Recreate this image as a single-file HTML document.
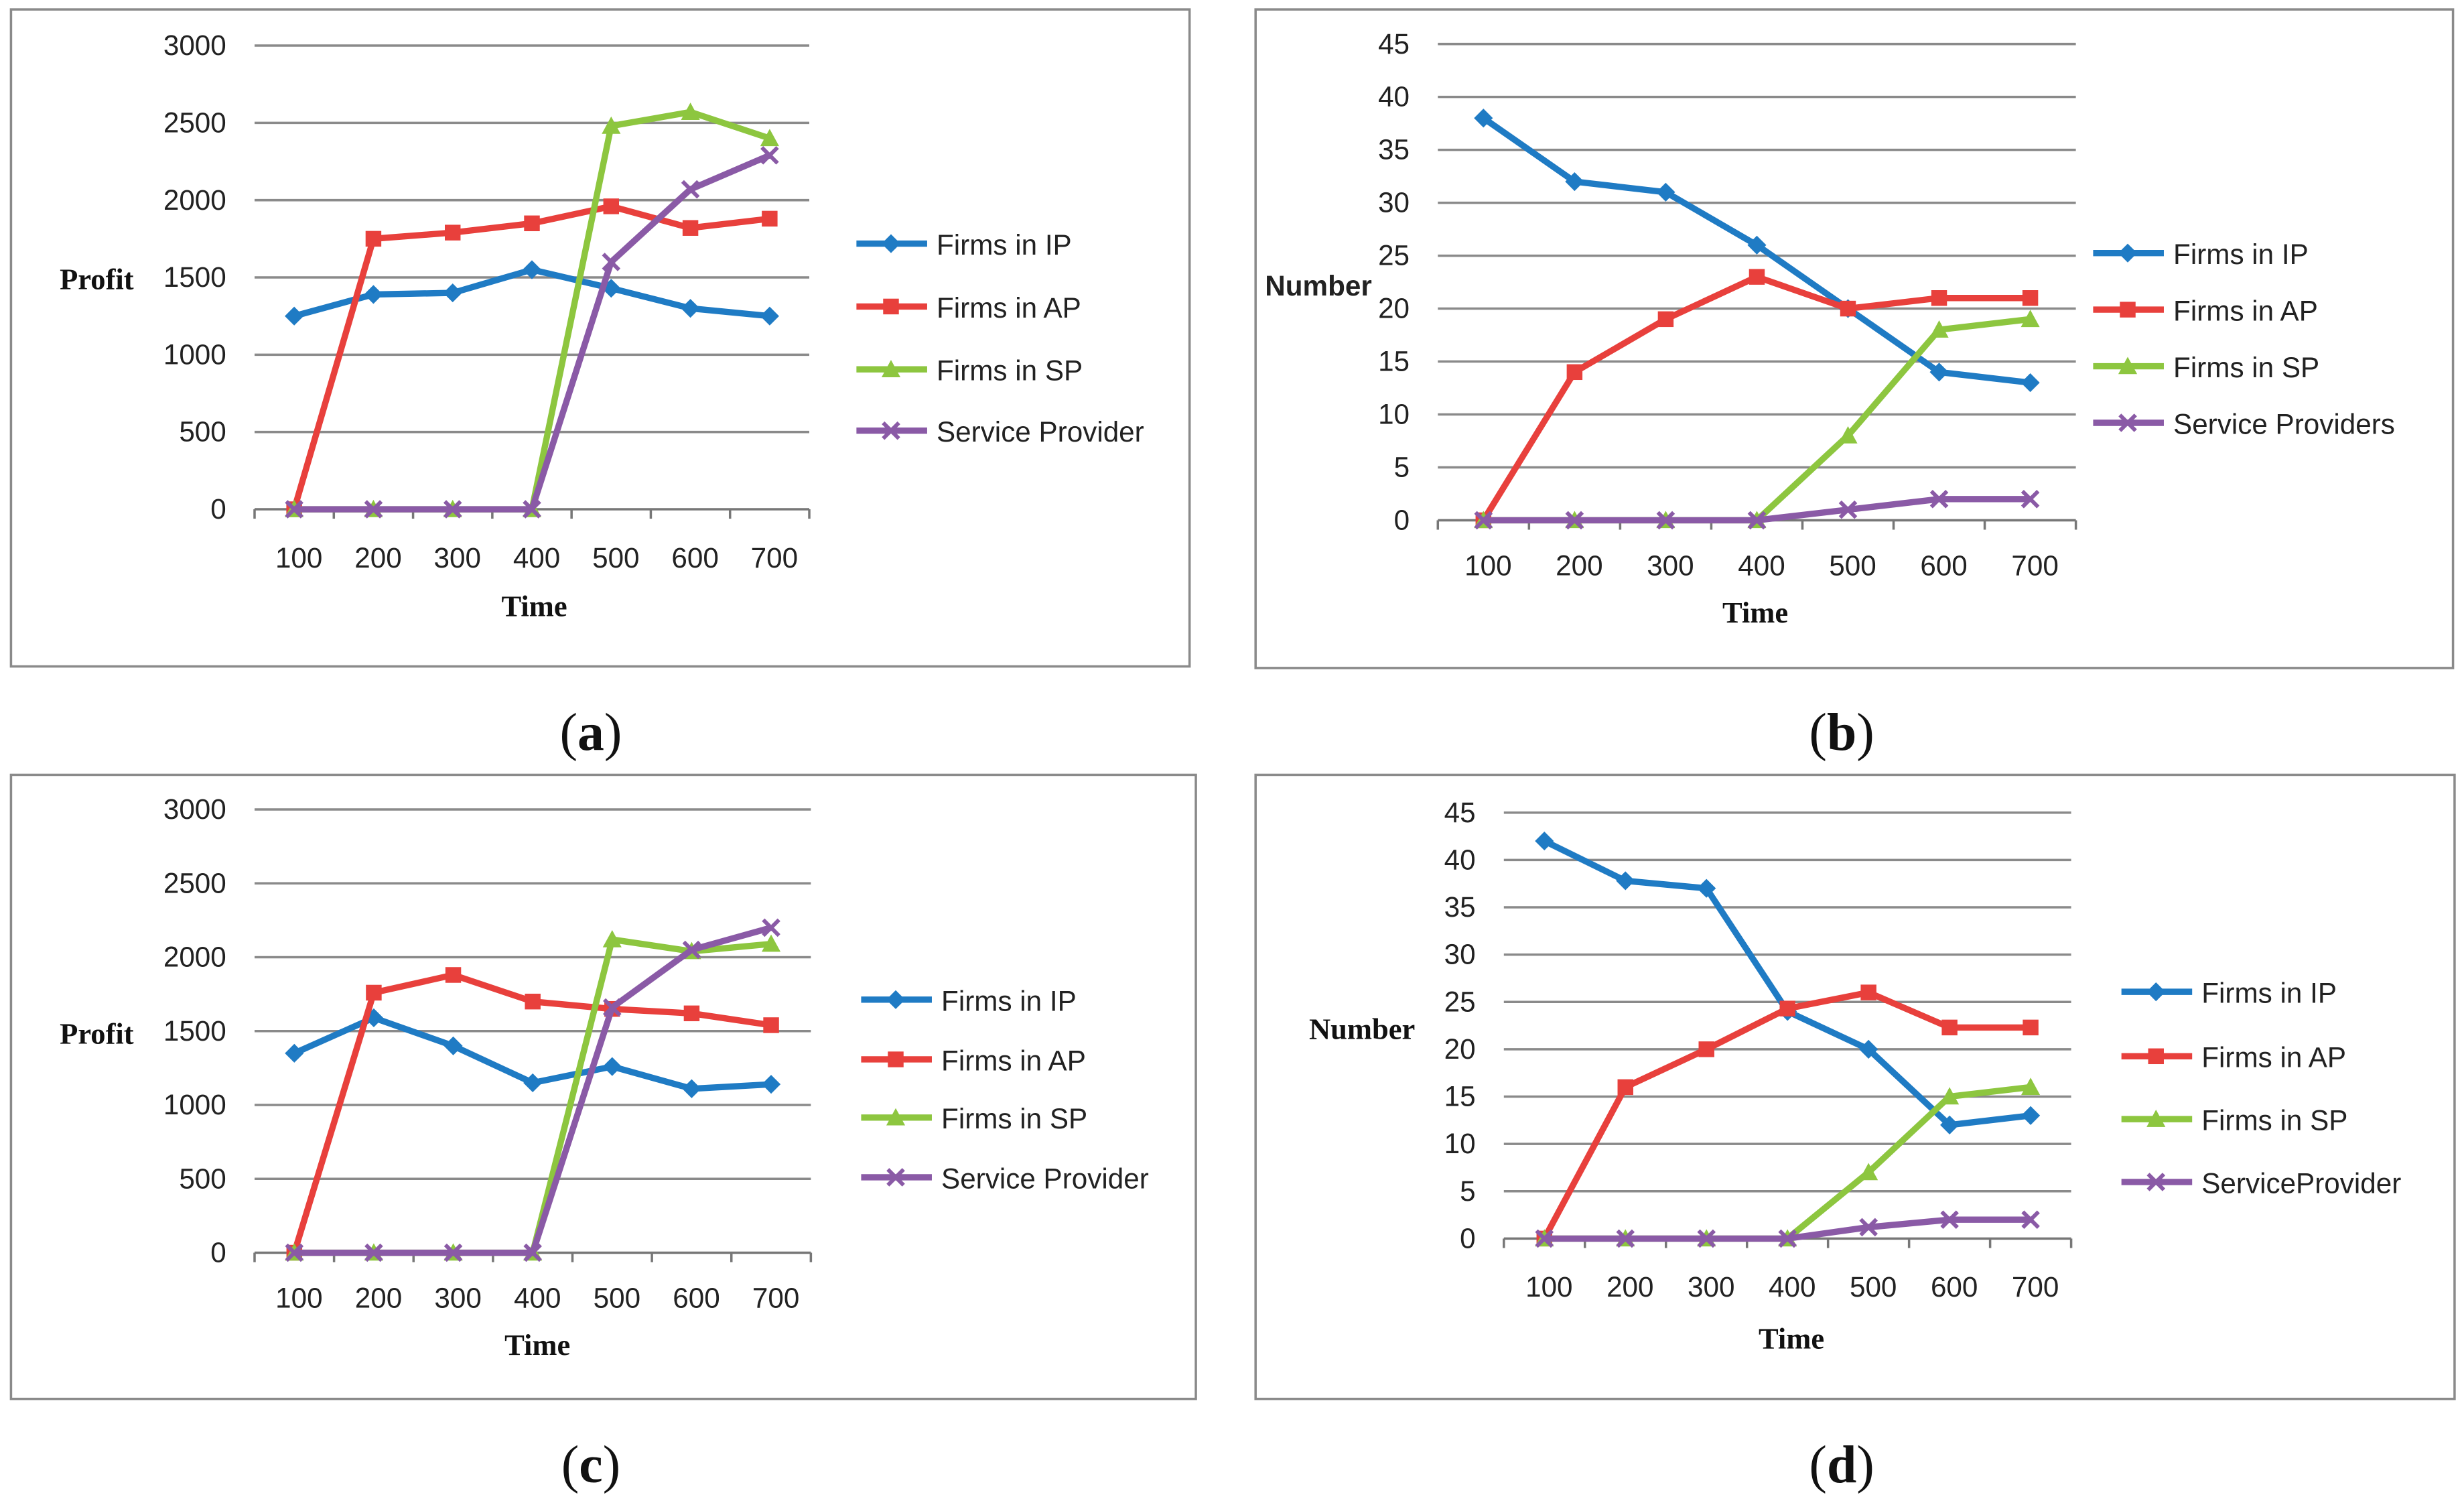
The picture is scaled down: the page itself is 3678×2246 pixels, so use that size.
<!DOCTYPE html>
<html><head><meta charset="utf-8"><style>
html,body{margin:0;padding:0;background:#fff}
svg{display:block}
.tk{font-family:"Liberation Sans",sans-serif;font-size:18px;fill:#222}
.lg{font-family:"Liberation Sans",sans-serif;font-size:18px;fill:#222}
.ttl{font-family:"Liberation Serif",serif;font-size:19px;font-weight:bold;fill:#111}
.cap{font-family:"Liberation Serif",serif;font-size:34px;fill:#111}
</style></head><body>
<svg id="root" width="3678" height="2246" viewBox="0 0 1568 957.5" xmlns="http://www.w3.org/2000/svg">
<rect width="1568" height="957.5" fill="#fff"/>
</svg>
<script>
const categories=[100,200,300,400,500,600,700];
const seriesNames=['Firms in IP','Firms in AP','Firms in SP','Service Provider'];
const aIP=[1250,1390,1400,1550,1430,1300,1250];
const aAP=[0,1750,1790,1850,1960,1820,1880];
const aSP=[0,0,0,0,2480,2570,2400];
const aSV=[0,0,0,0,1600,2070,2290];
const bIP=[38,32,31,26,20,14,13];
const bAP=[0,14,19,23,20,21,21];
const bSP=[0,0,0,0,8,18,19];
const bSV=[0,0,0,0,1,2,2];
const cIP=[1350,1590,1400,1150,1260,1110,1140];
const cAP=[0,1760,1880,1700,1650,1620,1540];
const cSP=[0,0,0,0,2120,2040,2090];
const cSV=[0,0,0,0,1660,2050,2200];
const dIP=[42,37.8,37,24,20,12,13];
const dAP=[0,16,20,24.3,26,22.3,22.3];
const dSP=[0,0,0,0,7,15,16];
const dSV=[0,0,0,0,1.2,2,2];
const profitTicks=[0,500,1000,1500,2000,2500,3000];
const numberTicks=[0,5,10,15,20,25,30,35,40,45];

const NS='http://www.w3.org/2000/svg';
const root=document.getElementById('root');
const colors=['#1f7bc4','#e8403c','#8dc63f','#8a5aa6'];
function mk(tag,attrs,parent,text){const e=document.createElementNS(NS,tag);for(const k in attrs)e.setAttribute(k,attrs[k]);if(text!==undefined)e.textContent=text;(parent||root).appendChild(e);return e;}
function marker(g,type,x,y,c){
  if(type===0)mk('polygon',{points:`${x},${y-6} ${x+6},${y} ${x},${y+6} ${x-6},${y}`,fill:c},g);
  else if(type===1)mk('rect',{x:x-5,y:y-5,width:10,height:10,fill:c},g);
  else if(type===2)mk('polygon',{points:`${x},${y-6} ${x+6},${y+5} ${x-6},${y+5}`,fill:c},g);
  else {mk('path',{d:`M${x-5} ${y-5}L${x+5} ${y+5}M${x+5} ${y-5}L${x-5} ${y+5}`,stroke:c,'stroke-width':2.5},g);}
}
function panel(p){
  const g=mk('g',{});
  
  
  const fr=mk('rect',{x:p.fx,y:p.fy,width:p.fw,height:p.fh,fill:'none',stroke:'#8a8a8a','stroke-width':1.5},g);
  
  
  const ymax=p.ticks[p.ticks.length-1];
  const Y=v=>p.y0-(v/ymax)*(p.y0-p.y1);
  const step=(p.xr-p.xl)/categories.length;
  const X=i=>p.xl+step*(i+0.5);
  p.ticks.forEach(t=>{
    const gl=mk('line',{x1:p.xl,x2:p.xr,y1:Y(t),y2:Y(t),stroke:t===0?'#777':'#8a8a8a','stroke-width':1.5},g);
    
    
    const tl=mk('text',{x:p.xl-18,y:Y(t)+6,'text-anchor':'end',class:'tk'},g,String(t));
    
    
  });
  for(let i=0;i<=categories.length;i++){
    mk('line',{x1:p.xl+step*i,x2:p.xl+step*i,y1:p.y0,y2:p.y0+6,stroke:'#777','stroke-width':1.5},g);
  }
  categories.forEach((c,i)=>{
    const tl=mk('text',{x:X(i)+3,y:p.xly,'text-anchor':'middle',class:'tk'},g,String(c));
    
    
  });
  const xt=mk('text',{x:p.xtx,y:p.xty,'text-anchor':'middle',class:'ttl'},g,'Time');
  
  
  const yt=mk('text',{x:p.ytx,y:p.yty,class:p.ytSans?'tk':'ttl','font-weight':'bold'},g,p.ytitle);
  
  
  p.series.forEach((s,k)=>{
    const sg=mk('g',{},g);
    
    
    const pts=s.map((v,i)=>X(i)+','+Y(v)).join(' ');
    mk('polyline',{points:pts,fill:'none',stroke:colors[k],'stroke-width':4,'stroke-linejoin':'round'},sg);
    s.forEach((v,i)=>marker(sg,k,X(i),Y(v),colors[k]));
  });
  p.legY.forEach((ly,k)=>{
    const lg=mk('g',{},g);
    
    
    mk('line',{x1:p.lx,x2:p.lx+45,y1:ly,y2:ly,stroke:colors[k],'stroke-width':4},lg);
    marker(lg,k,p.lx+22,ly,colors[k]);
    mk('text',{x:p.lx+51,y:ly+7,class:'lg'},lg,p.legNames[k]);
  });
  const cp=mk('text',{x:p.cx,y:p.cy,'text-anchor':'middle',class:'cap'},g);
  
  
  mk('tspan',{},cp,'(');mk('tspan',{'font-weight':'bold'},cp,p.letter);mk('tspan',{},cp,')');
}
panel({name:'chart-a',fx:7,fy:6,fw:750,fh:418,xl:162,xr:515,y0:324,y1:29,ticks:profitTicks,xly:361,xtx:340,xty:392,ytx:38,yty:184,ytitle:'Profit',
  series:[aIP,aAP,aSP,aSV],lx:545,legY:[155,195,235,274],legNames:['Firms in IP','Firms in AP','Firms in SP','Service Provider'],cx:376,cy:477,letter:'a'});
panel({name:'chart-b',fx:799,fy:6,fw:762,fh:419,xl:915,xr:1321,y0:331,y1:28,ticks:numberTicks,xly:366,xtx:1117,xty:396,ytx:805,yty:188,ytitle:'Number',ytSans:true,
  series:[bIP,bAP,bSP,bSV],lx:1332,legY:[161,197,233,269],legNames:['Firms in IP','Firms in AP','Firms in SP','Service Providers'],cx:1172,cy:477,letter:'b'});
panel({name:'chart-c',fx:7,fy:493,fw:754,fh:397,xl:162,xr:516,y0:797,y1:515,ticks:profitTicks,xly:832,xtx:342,xty:862,ytx:38,yty:664,ytitle:'Profit',
  series:[cIP,cAP,cSP,cSV],lx:548,legY:[636,674,711,749],legNames:['Firms in IP','Firms in AP','Firms in SP','Service Provider'],cx:376,cy:943,letter:'c'});
panel({name:'chart-d',fx:799,fy:493,fw:763,fh:397,xl:957,xr:1318,y0:788,y1:517,ticks:numberTicks,xly:825,xtx:1140,xty:858,ytx:833,yty:661,ytitle:'Number',
  series:[dIP,dAP,dSP,dSV],lx:1350,legY:[631,672,712,752],legNames:['Firms in IP','Firms in AP','Firms in SP','ServiceProvider'],cx:1172,cy:943,letter:'d'});
</script>
</body></html>
